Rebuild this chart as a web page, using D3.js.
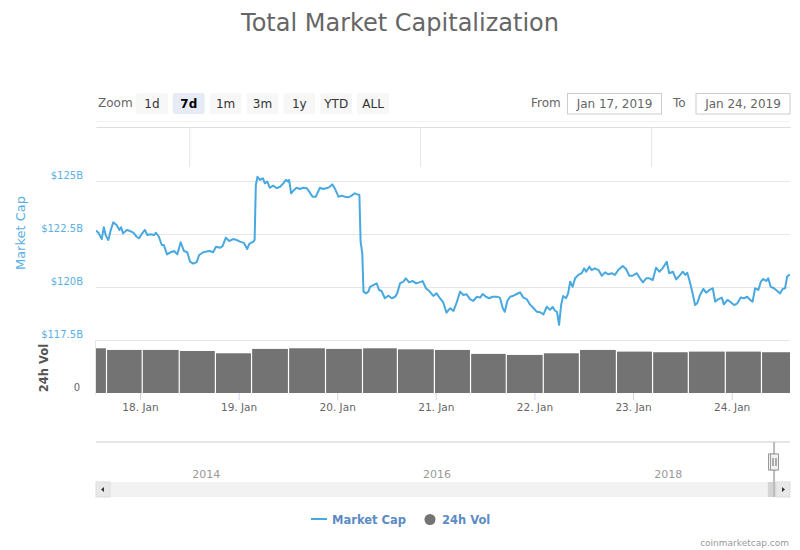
<!DOCTYPE html>
<html>
<head>
<meta charset="utf-8">
<script src="https://cdn.jsdelivr.net/npm/d3@7.9.0/dist/d3.min.js"></script>
<style>
  body { margin: 0; background: #fff; }
  svg { display: block; font-family: "DejaVu Sans", Verdana, sans-serif; }
</style>
</head>
<body>
<svg id="chart" width="800" height="550"></svg>
<script>
// hours counted from 2019-01-17 00:00 UTC
const baseTime = Date.UTC(2019, 0, 17);
const viewStartHour = 13.3;
const viewEndHour = 182.2;

const capHours = [
  13.4, 13.9, 14.7, 15.2, 15.7, 16.3, 16.9, 17.5, 18.3, 19.0,
  19.4, 19.9, 20.8, 21.6, 22.4, 23.2, 23.8, 24.4, 25.2, 25.8,
  26.6, 27.4, 27.9, 28.6, 29.3, 29.8, 30.6, 31.5, 32.3, 33.1,
  33.9, 34.7, 35.5, 36.2, 37.0, 37.8, 38.4, 39.4, 40.2, 41.0,
  41.8, 42.5, 43.5, 44.1, 44.9, 45.7, 46.7, 47.5, 48.3, 49.3,
  50.1, 50.6, 51.6, 51.9, 52.2, 52.6, 53.2, 53.9, 54.4, 55.0,
  55.6, 56.4, 57.3, 58.1, 58.9, 59.5, 60.1, 60.3, 60.8, 61.5,
  62.1, 62.9, 63.7, 64.6, 65.2, 66.0, 66.8, 67.8, 68.6, 69.8,
  70.2, 70.8, 71.5, 72.3, 73.1, 73.9, 74.7, 75.5, 76.3, 76.9,
  77.4, 77.7, 78.1, 78.4, 79.0, 79.6, 80.0, 80.8, 81.6, 82.2,
  82.8, 83.6, 84.4, 85.3, 86.1, 86.6, 87.3, 88.1, 88.7, 89.5,
  90.4, 91.2, 92.0, 92.8, 93.6, 94.4, 95.4, 96.2, 97.0, 97.8,
  98.6, 99.5, 100.3, 101.1, 101.9, 102.7, 103.5, 104.3, 105.1, 106.0,
  106.8, 107.4, 108.2, 109.0, 109.8, 110.8, 111.6, 112.3, 112.8, 113.4,
  114.1, 114.9, 115.7, 116.5, 117.3, 118.1, 118.9, 119.7, 120.6, 121.4,
  122.2, 123.0, 123.8, 124.4, 125.0, 125.5, 126.0, 126.5, 127.0, 127.7,
  128.2, 128.7, 129.3, 129.9, 130.7, 131.5, 132.1, 132.6, 133.4, 133.9,
  134.7, 135.6, 136.4, 137.2, 138.0, 138.8, 139.6, 140.4, 141.5, 142.3,
  143.1, 143.9, 144.9, 145.7, 146.4, 147.2, 148.0, 148.8, 149.6, 150.4,
  151.2, 152.2, 152.8, 153.7, 154.5, 155.3, 156.1, 156.7, 157.2, 157.7,
  158.5, 159.1, 159.6, 160.3, 161.1, 161.8, 162.6, 163.4, 164.0, 164.8,
  165.6, 166.1, 167.0, 167.8, 168.6, 169.4, 170.2, 171.0, 171.8, 172.5,
  173.1, 173.7, 174.5, 175.1, 175.7, 176.4, 176.9, 177.5, 178.3, 179.1,
  179.8, 180.4, 181.0, 181.5, 182.0
];

// total market cap, $ billions
const capValues = [
  122.64, 122.56, 122.26, 122.82, 122.42, 122.22, 122.69, 123.05, 122.92, 122.69,
  122.82, 122.53, 122.69, 122.64, 122.56, 122.37, 122.30, 122.49, 122.69, 122.45,
  122.49, 122.45, 122.56, 122.37, 121.98, 121.98, 121.54, 121.64, 121.70, 121.54,
  122.11, 121.70, 121.64, 121.19, 121.10, 121.17, 121.51, 121.64, 121.67, 121.70,
  121.64, 121.90, 121.85, 121.93, 122.33, 122.17, 122.26, 122.22, 122.14, 122.08,
  121.79, 122.03, 122.14, 122.22, 124.81, 125.20, 125.05, 125.13, 124.89, 124.97,
  124.68, 124.78, 124.66, 124.73, 124.89, 125.05, 124.97, 125.05, 124.42, 124.58,
  124.68, 124.62, 124.68, 124.66, 124.50, 124.26, 124.26, 124.68, 124.62, 124.68,
  124.73, 124.84, 124.62, 124.26, 124.31, 124.26, 124.23, 124.31, 124.42, 124.37,
  124.34, 122.14, 121.59, 119.78, 119.70, 119.78, 120.01, 120.09, 120.17, 119.86,
  119.81, 119.47, 119.59, 119.47, 119.54, 119.70, 120.17, 120.25, 120.41, 120.22,
  120.28, 120.17, 120.22, 120.28, 119.94, 119.81, 119.58, 119.70, 119.47, 119.28,
  118.79, 119.00, 118.87, 119.28, 119.78, 119.62, 119.66, 119.43, 119.34, 119.54,
  119.50, 119.67, 119.54, 119.47, 119.54, 119.54, 119.50, 119.00, 118.83, 119.34,
  119.54, 119.59, 119.67, 119.75, 119.50, 119.43, 119.18, 119.02, 118.83, 118.81,
  118.71, 119.07, 118.92, 119.06, 118.89, 118.82, 118.21, 119.15, 119.58, 119.47,
  119.70, 120.25, 120.01, 120.41, 120.57, 120.65, 120.88, 120.72, 120.96, 120.80,
  120.88, 120.80, 120.53, 120.69, 120.60, 120.65, 120.57, 120.80, 120.99, 120.85,
  120.53, 120.53, 120.65, 120.41, 120.22, 120.41, 120.41, 120.33, 120.91, 120.72,
  120.88, 121.19, 120.65, 120.72, 120.36, 120.53, 120.72, 120.57, 120.67, 120.33,
  119.70, 119.15, 119.23, 119.62, 119.91, 119.73, 119.86, 119.94, 119.31, 119.43,
  119.50, 119.18, 119.39, 119.28, 119.15, 119.23, 119.50, 119.47, 119.54, 119.39,
  119.31, 119.94, 119.86, 120.25, 120.38, 120.28, 120.41, 120.01, 119.94, 119.81,
  119.70, 119.91, 119.94, 120.49, 120.57
];

// grouped 24h volume columns: start hours (last entry closes the last column), $ billions
const volEdgeHours = [7.1, 16.0, 24.7, 33.7, 42.5, 51.3, 60.3, 69.3, 78.3, 86.8,
  95.8, 104.6, 113.3, 122.3, 131.1, 140.1, 148.9, 157.6, 166.6, 175.4, 184.3];
const volValues = [21.5, 20.7, 20.7, 20.2, 19.1, 21.2, 21.5, 21.2, 21.5, 21.0,
  20.7, 18.8, 18.3, 19.1, 20.7, 19.9, 19.6, 19.9, 19.9, 19.6];

const capTicks = [117.5, 120, 122.5, 125];
const volTicks = [0];
const dayTicks = ['2019-01-18', '2019-01-19', '2019-01-20', '2019-01-21', '2019-01-22', '2019-01-23', '2019-01-24'];
const navYears = ['2014-01-01', '2016-01-01', '2018-01-01'];
const navDomain = ['2013-03-12', '2019-03-16'];

const zoomButtons = ['1d', '7d', '1m', '3m', '1y', 'YTD', 'ALL'];
const selectedButton = '7d';
const rangeFrom = 'Jan 17, 2019';
const rangeTo = 'Jan 24, 2019';

const titleText = 'Total Market Capitalization';
const capSeriesName = 'Market Cap';
const volSeriesName = '24h Vol';

const capColor = '#48a8e0';
const volColor = '#737373';
const legendText = '#5b8bc4';

const toDate = (h) => new Date(baseTime + h * 3600e3);
const utc = (s) => new Date(s + 'T00:00:00Z');

const capData = capHours.map((h, i) => ({ date: toDate(h), value: capValues[i] }));
const volData = volValues.map((v, i) => ({ start: toDate(volEdgeHours[i]), end: toDate(volEdgeHours[i + 1]), value: v }));

const area = { left: 96, right: 790, top: 160, capBottom: 340, volTop: 341, volBottom: 393 };

const svg = d3.select('#chart');

const x = d3.scaleUtc().domain([toDate(viewStartHour), toDate(viewEndHour)]).range([area.left, area.right]);
const yCap = d3.scaleLinear().domain([117.5, 125]).range([area.capBottom, 181]);
const yVol = d3.scaleLinear().domain([0, 25]).range([area.volBottom, area.volTop]);
const navX = d3.scaleUtc().domain(navDomain.map(utc)).range([area.left, area.right]);

// title
svg.append('text')
  .attr('x', 400).attr('y', 31)
  .attr('text-anchor', 'middle')
  .attr('fill', '#666').attr('font-size', 24)
  .text(titleText);

// range selector
svg.append('text')
  .attr('x', 98).attr('y', 107)
  .attr('fill', '#666').attr('font-size', 12)
  .text('Zoom');

const btn = d3.scaleBand().domain(zoomButtons).range([136, 389]).paddingInner(0.136);
const btns = svg.append('g').selectAll('g').data(zoomButtons).join('g')
  .attr('transform', (d) => `translate(${btn(d)},93)`);
btns.append('rect')
  .attr('width', btn.bandwidth()).attr('height', 21).attr('rx', 2)
  .attr('fill', (d) => (d === selectedButton ? '#e6ebf5' : '#f7f7f7'));
btns.append('text')
  .attr('x', btn.bandwidth() / 2).attr('y', 14.5)
  .attr('text-anchor', 'middle').attr('font-size', 12)
  .attr('font-weight', (d) => (d === selectedButton ? 'bold' : 'normal'))
  .attr('fill', (d) => (d === selectedButton ? '#000' : '#333'))
  .text((d) => d);

const inputs = [
  { label: 'From', labelX: 531, boxX: 567.5, value: rangeFrom },
  { label: 'To', labelX: 673, boxX: 696, value: rangeTo },
];
const inp = svg.append('g').selectAll('g').data(inputs).join('g');
inp.append('text')
  .attr('x', (d) => d.labelX).attr('y', 107)
  .attr('fill', '#666').attr('font-size', 12)
  .text((d) => d.label);
inp.append('rect')
  .attr('x', (d) => d.boxX).attr('y', 93.5).attr('width', 94).attr('height', 20.5)
  .attr('fill', '#fff').attr('stroke', '#ccc');
inp.append('text')
  .attr('x', (d) => d.boxX + 47).attr('y', 107.5)
  .attr('text-anchor', 'middle').attr('fill', '#666').attr('font-size', 12)
  .text((d) => d.value);

// faint separator and navigator year grid (drawn at the top)
svg.append('line')
  .attr('x1', area.left - 1).attr('x2', area.right).attr('y1', 121.5).attr('y2', 121.5)
  .attr('stroke', '#f3f3f3');
const topGrid = svg.append('g').attr('transform', 'translate(0,127)')
  .call(d3.axisBottom(navX).tickValues(navYears.map(utc)).tickSize(40).tickSizeOuter(0).tickFormat(''));
topGrid.select('.domain').attr('stroke', '#ddd');
topGrid.selectAll('.tick line').attr('stroke', '#e6e6e6');

// market cap grid
const grid = svg.append('g').attr('transform', `translate(${area.left},0)`)
  .call(d3.axisLeft(yCap).tickValues(capTicks).tickSize(-(area.right - area.left)).tickFormat(''));
grid.select('.domain').remove();
grid.selectAll('.tick line').attr('stroke', '#e6e6e6');

const capLabels = svg.append('g').selectAll('text').data(capTicks).join('text')
  .attr('x', 83).attr('y', (d) => yCap(d) - 6).attr('dy', '0.35em')
  .attr('text-anchor', 'end').attr('fill', '#5aafe3').attr('font-size', 10)
  .text((d) => `$${d}B`);

svg.append('text')
  .attr('transform', `translate(25,${(yCap(125) + yCap(120)) / 2 - 1}) rotate(-90)`)
  .attr('text-anchor', 'middle').attr('fill', '#5aafe3').attr('font-size', 13)
  .text(capSeriesName);

// clip
svg.append('clipPath').attr('id', 'plotClip').append('rect')
  .attr('x', area.left).attr('y', area.top).attr('width', area.right - area.left).attr('height', area.volBottom - area.top);

// volume pane
svg.append('line')
  .attr('x1', area.left - 0.5).attr('x2', area.left - 0.5).attr('y1', area.volTop - 1).attr('y2', area.volBottom + 2)
  .attr('stroke', '#e6e6e6');

svg.append('g').attr('clip-path', 'url(#plotClip)')
  .selectAll('rect').data(volData).join('rect')
  .attr('x', (d) => x(d.start))
  .attr('width', (d) => Math.max(0, x(d.end) - x(d.start) - 1.2))
  .attr('y', (d) => yVol(d.value))
  .attr('height', (d) => yVol(0) - yVol(d.value))
  .attr('fill', volColor);

svg.append('g').selectAll('text').data(volTicks).join('text')
  .attr('x', 80).attr('y', (d) => yVol(d) - 6).attr('dy', '0.35em')
  .attr('text-anchor', 'end').attr('fill', '#666').attr('font-size', 10)
  .text((d) => d);

svg.append('text')
  .attr('transform', `translate(48,${(area.volTop + area.volBottom) / 2 + 1}) rotate(-90)`)
  .attr('text-anchor', 'middle').attr('fill', '#555').attr('font-size', 11.5).attr('font-weight', 'bold')
  .text(volSeriesName);

// market cap line
const line = d3.line().x((d) => x(d.date)).y((d) => yCap(d.value));
svg.append('path')
  .datum(capData)
  .attr('clip-path', 'url(#plotClip)')
  .attr('fill', 'none').attr('stroke', capColor).attr('stroke-width', 2)
  .attr('stroke-linejoin', 'round').attr('stroke-linecap', 'round')
  .attr('d', line);

// x axis
const xAxis = svg.append('g').attr('transform', `translate(0,${area.volBottom})`)
  .call(d3.axisBottom(x).tickValues(dayTicks.map(utc)).tickSize(7).tickPadding(4)
    .tickFormat(d3.utcFormat('%d. %b')));
xAxis.select('.domain').remove();
xAxis.selectAll('.tick line').attr('stroke', '#ccd6eb');
xAxis.selectAll('.tick text').attr('fill', '#666').attr('font-size', 10.5).attr('font-family', 'DejaVu Sans');

// navigator
svg.append('line')
  .attr('x1', area.left).attr('x2', area.right).attr('y1', 442).attr('y2', 442)
  .attr('stroke', '#ccc');

svg.append('g').selectAll('text').data(navYears.map(utc)).join('text')
  .attr('x', (d) => navX(d) + 3).attr('y', 478)
  .attr('fill', '#999').attr('font-size', 11)
  .text((d) => d.getUTCFullYear());

// scrollbar
const sbY = 482, sbH = 15;
svg.append('rect')
  .attr('x', area.left).attr('y', sbY).attr('width', area.right - area.left).attr('height', sbH)
  .attr('fill', '#f2f2f2');
const handleDates = [toDate(viewStartHour), toDate(viewEndHour)];
svg.append('rect')
  .attr('x', navX(handleDates[0]) - 4).attr('y', sbY)
  .attr('width', Math.max(8, navX(handleDates[1]) - navX(handleDates[0]) + 4)).attr('height', sbH)
  .attr('fill', '#d4d4d4');
const sbButtons = [
  { x0: area.left, dir: -1 },
  { x0: area.right - 14, dir: 1 },
];
const sbb = svg.append('g').selectAll('g').data(sbButtons).join('g')
  .attr('transform', (d) => `translate(${d.x0},${sbY})`);
sbb.append('rect').attr('width', 14).attr('height', sbH).attr('fill', '#e8e8e8').attr('stroke', '#ddd');
sbb.append('path')
  .attr('d', (d) => (d.dir < 0 ? 'M8,5 L5,7.5 L8,10 Z' : 'M6,5 L9,7.5 L6,10 Z'))
  .attr('fill', '#333');

// navigator handles
svg.append('line')
  .attr('x1', navX(handleDates[1])).attr('x2', navX(handleDates[1]))
  .attr('y1', 442).attr('y2', sbY + sbH)
  .attr('stroke', '#bbb').attr('stroke-width', 2);
const handles = svg.append('g').selectAll('g').data(handleDates).join('g')
  .attr('transform', (d) => `translate(${Math.round(navX(d)) + 0.5},454)`);
handles.append('rect')
  .attr('x', -4).attr('width', 8).attr('height', 16)
  .attr('fill', '#f2f2f2').attr('stroke', '#999');
handles.append('path')
  .attr('d', 'M-1.5,4 V12 M1.5,4 V12')
  .attr('stroke', '#666');

// legend
const lg = svg.append('g');
lg.append('line').attr('x1', 311).attr('x2', 327).attr('y1', 519).attr('y2', 519)
  .attr('stroke', capColor).attr('stroke-width', 2);
lg.append('text').attr('x', 332).attr('y', 523.5)
  .attr('fill', legendText).attr('font-size', 11.5).attr('font-weight', 'bold')
  .text(capSeriesName);
lg.append('circle').attr('cx', 430).attr('cy', 519.5).attr('r', 5.5).attr('fill', volColor);
lg.append('text').attr('x', 442).attr('y', 523.5)
  .attr('fill', legendText).attr('font-size', 11.5).attr('font-weight', 'bold')
  .text(volSeriesName);

// credits
svg.append('text')
  .attr('x', 789).attr('y', 546)
  .attr('text-anchor', 'end').attr('fill', '#999').attr('font-size', 9)
  .text('coinmarketcap.com');
</script>
</body>
</html>
